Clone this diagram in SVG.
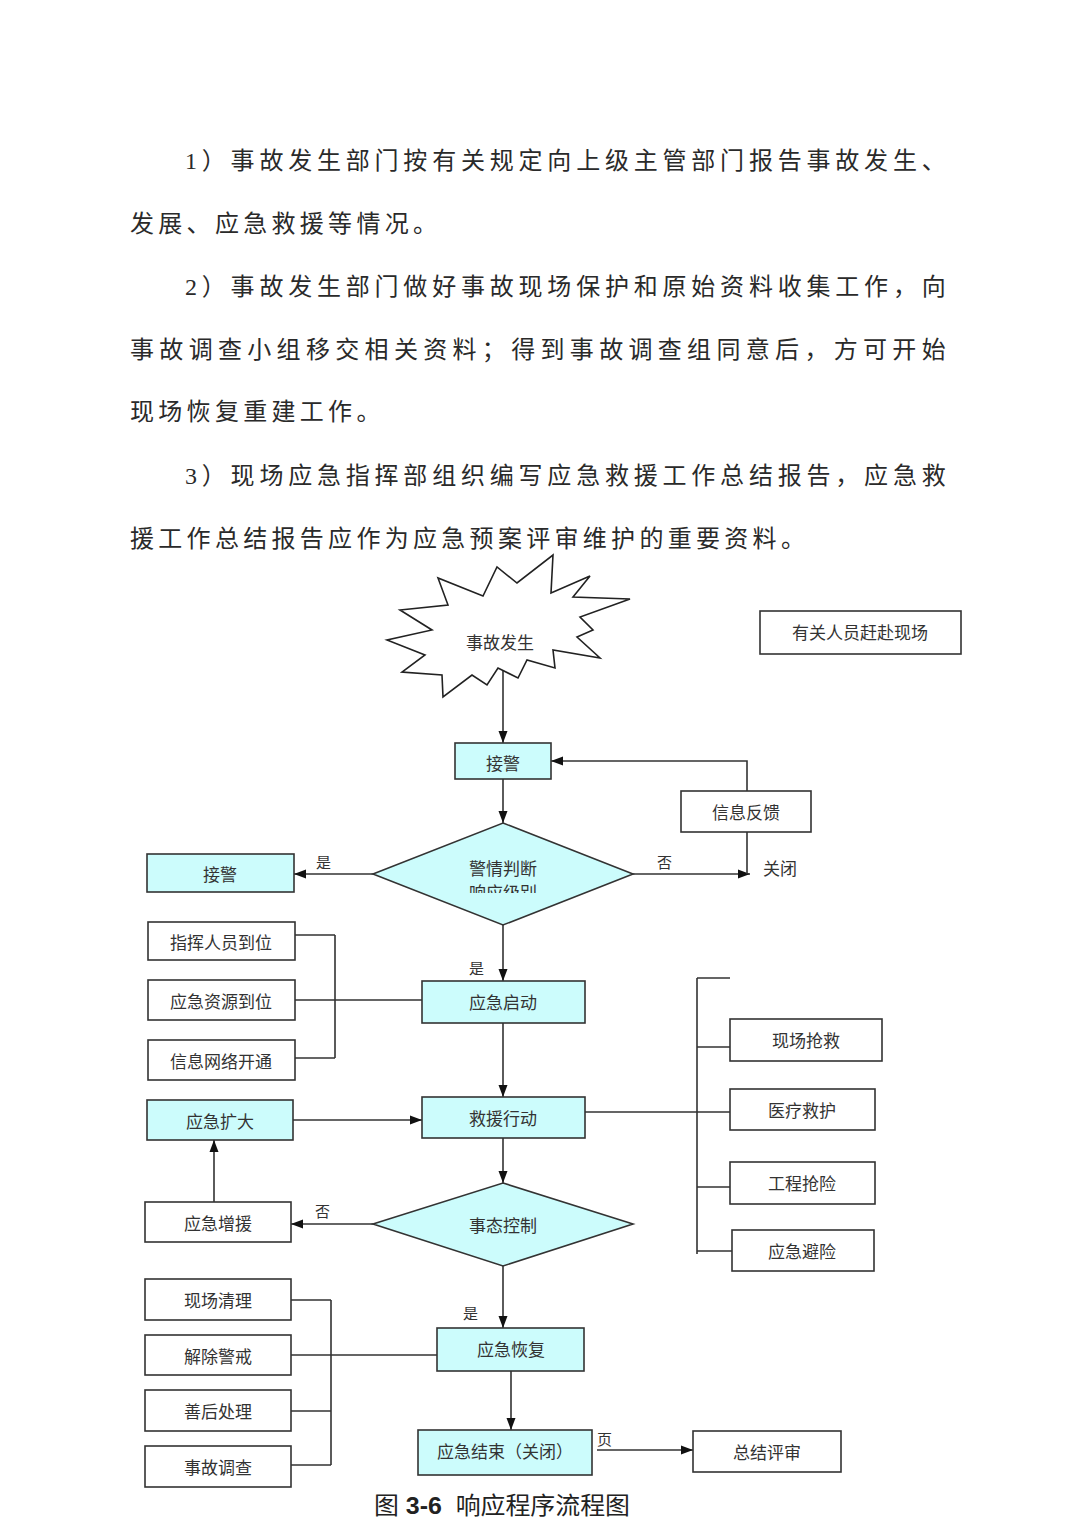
<svg xmlns="http://www.w3.org/2000/svg" width="1080" height="1527" viewBox="0 0 1080 1527">
<style>
.para{font-family:"Liberation Serif","Noto Sans CJK SC",serif;font-size:24px;fill:#2a2a2a;letter-spacing:4.3px}
.box{fill:#ffffff;stroke:#333;stroke-width:1.6}
.cy{fill:#ccfcfc;stroke:#333;stroke-width:1.6}
.t{font-family:"Noto Sans CJK SC",sans-serif;font-size:17px;fill:#333;text-anchor:middle;dominant-baseline:central}
.lbl{font-family:"Noto Sans CJK SC",sans-serif;font-size:15px;fill:#333}
.ln{fill:none;stroke:#333;stroke-width:1.6}
.ar{fill:none;stroke:#333;stroke-width:1.6;marker-end:url(#arr)}
</style>
<defs>
<marker id="arr" viewBox="0 0 12 10" refX="12" refY="5" markerWidth="12" markerHeight="10" markerUnits="userSpaceOnUse" orient="auto">
<path d="M0,0.5 L12,5 L0,9.5 z" fill="#111"/>
</marker>
<clipPath id="clipLvl"><rect x="440" y="878" width="130" height="15"/></clipPath>
</defs>
<rect width="1080" height="1527" fill="#ffffff"/>

<g id="paragraphs">
<text class="para" x="185" y="169" textLength="765" lengthAdjust="spacing">1）事故发生部门按有关规定向上级主管部门报告事故发生、</text>
<text class="para" x="130" y="232">发展、应急救援等情况。</text>
<text class="para" x="185" y="295" textLength="765" lengthAdjust="spacing">2）事故发生部门做好事故现场保护和原始资料收集工作，向</text>
<text class="para" x="130" y="358" textLength="820" lengthAdjust="spacing">事故调查小组移交相关资料；得到事故调查组同意后，方可开始</text>
<text class="para" x="130" y="420">现场恢复重建工作。</text>
<text class="para" x="185" y="484" textLength="765" lengthAdjust="spacing">3）现场应急指挥部组织编写应急救援工作总结报告，应急救</text>
<text class="para" x="130" y="547">援工作总结报告应作为应急预案评审维护的重要资料。</text>
</g>

<g id="connectors">
<path class="ar" d="M503,668 V743"/>
<path class="ar" d="M747,791 V761 H551"/>
<path class="ar" d="M503,779 V823"/>
<path class="ar" d="M633,874 H750"/>
<path class="ln" d="M747,832 V874"/>
<path class="ar" d="M373,874 H294"/>
<path class="ar" d="M503,925 V981"/>
<path class="ln" d="M295,935 H335 M295,1000 H422 M295,1058 H335 M335,935 V1058"/>
<path class="ar" d="M503,1023 V1097"/>
<path class="ar" d="M293,1120 H422"/>
<path class="ln" d="M585,1112 H730 M697,978 V1254 M697,978 H730 M697,1047 H730 M697,1187 H730 M697,1251 H732"/>
<path class="ar" d="M503,1138 V1183"/>
<path class="ar" d="M373,1224 H291"/>
<path class="ar" d="M214,1202 V1140"/>
<path class="ar" d="M503,1266 V1328"/>
<path class="ln" d="M291,1300 H331 M291,1355 H437 M291,1411 H331 M291,1465 H331 M331,1300 V1465"/>
<path class="ar" d="M511,1371 V1430"/>
<path class="ar" d="M597,1450 H693"/>
<text class="lbl" x="316" y="868">是</text>
<text class="lbl" x="657" y="868">否</text>
<text class="lbl" x="469" y="974">是</text>
<text class="lbl" x="315" y="1217">否</text>
<text class="lbl" x="463" y="1319">是</text>
<text class="lbl" x="597" y="1445">页</text>
</g>

<g id="n_star">
<polygon points="553,555 551,593 590,576 573,597 630,599 580,617 593,630 577,637 600,658 553,650 555,668 527,660 518,678 498,668 487,685 472,675 443,697 442,675 402,672 425,655 387,640 432,630 400,610 448,605 438,578 483,596 497,567 517,583" fill="#fff" stroke="#222" stroke-width="1.6" stroke-linejoin="miter"/>
<text class="t" x="500" y="641">事故发生</text>
</g>
<g id="n_people"><rect class="box" x="760" y="611" width="201" height="43"/><text class="t" x="860" y="631">有关人员赶赴现场</text></g>
<g id="n_jiejing1"><rect class="cy" x="455" y="743" width="96" height="36"/><text class="t" x="503" y="762">接警</text></g>
<g id="n_feedback"><rect class="box" x="681" y="791" width="130" height="41"/><text class="t" x="746" y="811">信息反馈</text></g>
<g id="n_close"><text class="t" x="780" y="867">关闭</text></g>
<g id="n_judge"><polygon class="cy" points="503,823 633,874 503,925 373,874"/><text class="t" x="503" y="867">警情判断</text><text class="t" x="503" y="891" clip-path="url(#clipLvl)">响应级别</text></g>
<g id="n_jiejing2"><rect class="cy" x="147" y="854" width="147" height="38"/><text class="t" x="220" y="873">接警</text></g>
<g id="n_zhihui"><rect class="box" x="148" y="922" width="147" height="38"/><text class="t" x="221" y="941">指挥人员到位</text></g>
<g id="n_ziyuan"><rect class="box" x="148" y="980" width="147" height="40"/><text class="t" x="221" y="1000">应急资源到位</text></g>
<g id="n_wangluo"><rect class="box" x="148" y="1040" width="147" height="40"/><text class="t" x="221" y="1060">信息网络开通</text></g>
<g id="n_qidong"><rect class="cy" x="422" y="981" width="163" height="42"/><text class="t" x="503" y="1001">应急启动</text></g>
<g id="n_kuoda"><rect class="cy" x="147" y="1100" width="146" height="40"/><text class="t" x="220" y="1120">应急扩大</text></g>
<g id="n_jiuyuan"><rect class="cy" x="422" y="1097" width="163" height="41"/><text class="t" x="503" y="1117">救援行动</text></g>
<g id="n_qiangjiu"><rect class="box" x="730" y="1019" width="152" height="42"/><text class="t" x="806" y="1039">现场抢救</text></g>
<g id="n_yiliao"><rect class="box" x="730" y="1089" width="145" height="41"/><text class="t" x="802" y="1109">医疗救护</text></g>
<g id="n_gongcheng"><rect class="box" x="730" y="1162" width="145" height="42"/><text class="t" x="802" y="1182">工程抢险</text></g>
<g id="n_bixian"><rect class="box" x="732" y="1230" width="142" height="41"/><text class="t" x="802" y="1250">应急避险</text></g>
<g id="n_control"><polygon class="cy" points="503,1183 633,1224 503,1266 373,1224"/><text class="t" x="503" y="1224">事态控制</text></g>
<g id="n_zengyuan"><rect class="box" x="145" y="1202" width="146" height="40"/><text class="t" x="218" y="1222">应急增援</text></g>
<g id="n_qingli"><rect class="box" x="145" y="1279" width="146" height="41"/><text class="t" x="218" y="1299">现场清理</text></g>
<g id="n_jiechu"><rect class="box" x="145" y="1335" width="146" height="40"/><text class="t" x="218" y="1355">解除警戒</text></g>
<g id="n_shanhou"><rect class="box" x="145" y="1390" width="146" height="41"/><text class="t" x="218" y="1410">善后处理</text></g>
<g id="n_diaocha"><rect class="box" x="145" y="1446" width="146" height="41"/><text class="t" x="218" y="1466">事故调查</text></g>
<g id="n_huifu"><rect class="cy" x="437" y="1328" width="147" height="43"/><text class="t" x="511" y="1348">应急恢复</text></g>
<g id="n_jieshu"><rect class="cy" x="418" y="1430" width="174" height="45"/><text class="t" x="505" y="1450">应急结束（关闭）</text></g>
<g id="n_pingshen"><rect class="box" x="693" y="1431" width="148" height="41"/><text class="t" x="767" y="1451">总结评审</text></g>

<g id="caption">
<text x="374" y="1514" textLength="256" lengthAdjust="spacingAndGlyphs" font-family="Liberation Sans,'Noto Sans CJK SC',sans-serif" font-size="24" fill="#222" xml:space="preserve">图 <tspan font-weight="bold">3-6</tspan>  响应程序流程图</text>
</g>
</svg>
